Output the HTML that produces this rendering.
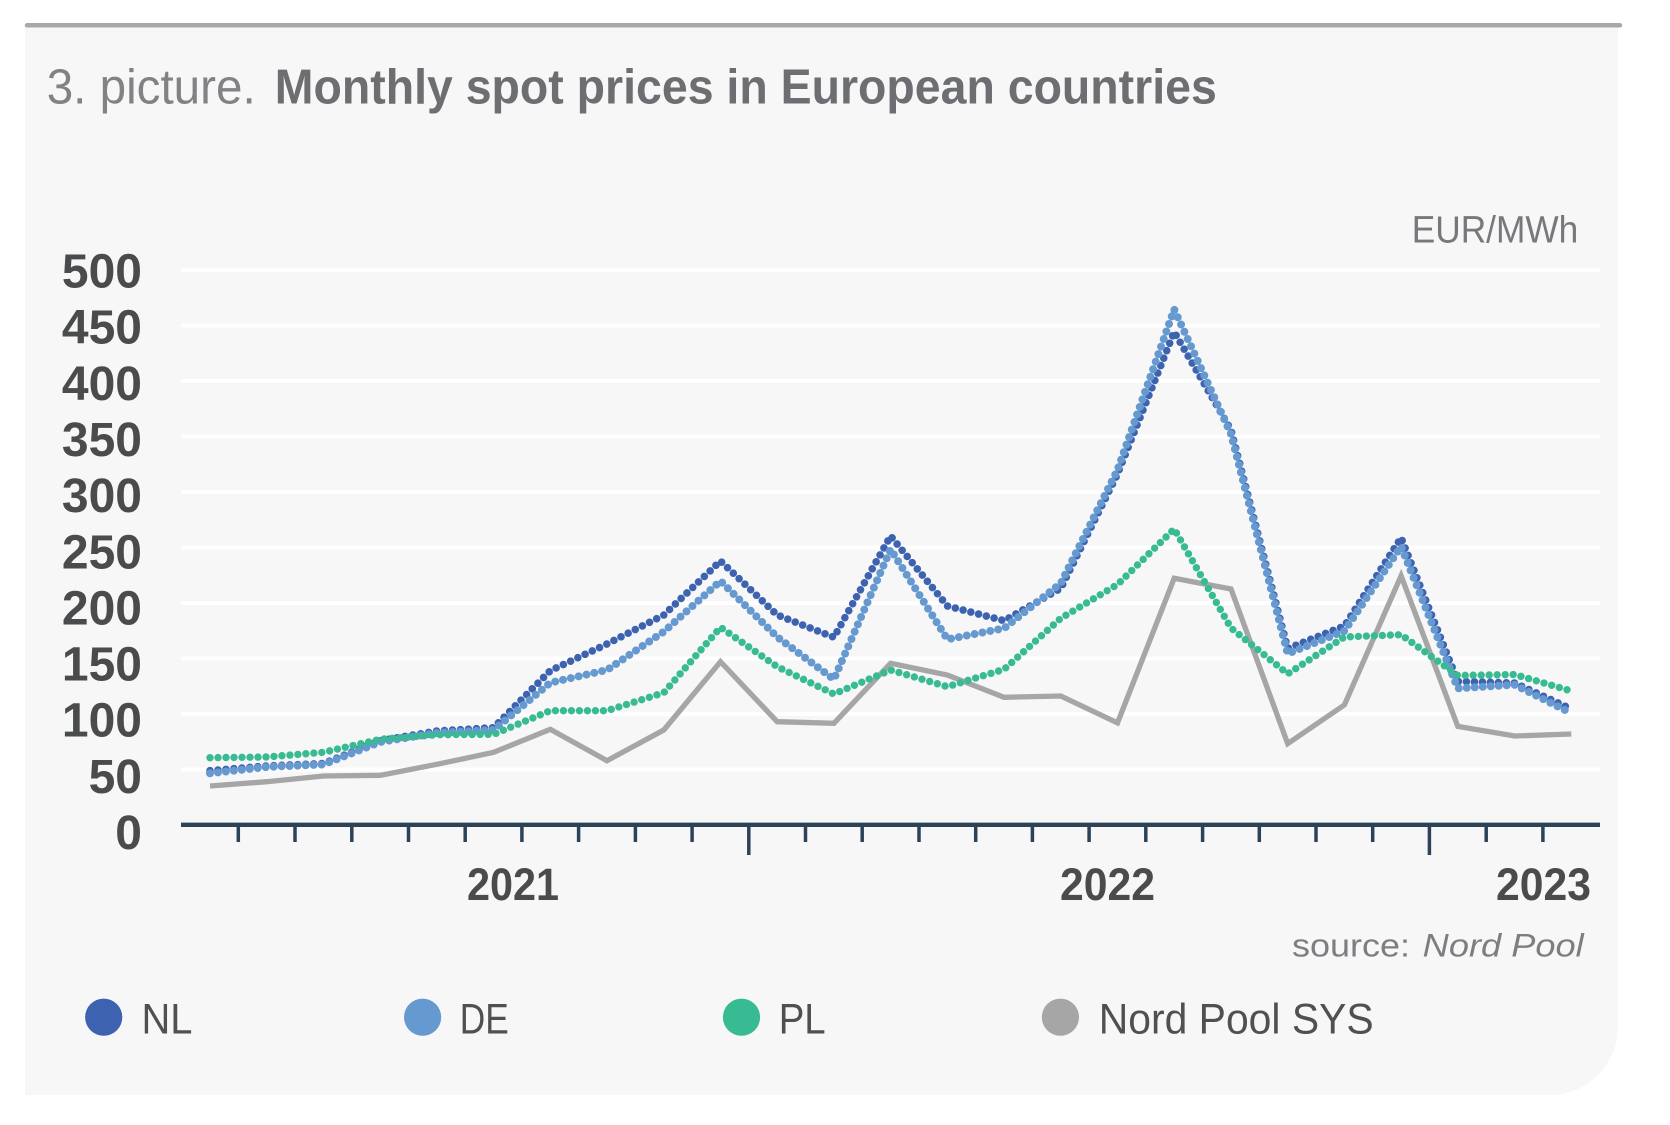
<!DOCTYPE html>
<html>
<head>
<meta charset="utf-8">
<style>
html,body{margin:0;padding:0;background:#ffffff;}
body{width:1670px;height:1125px;overflow:hidden;}
svg{display:block;}
</style>
</head>
<body>
<svg width="1670" height="1125" viewBox="0 0 1670 1125" xmlns="http://www.w3.org/2000/svg">
  <!-- panel -->
  <path d="M25,26 H1618 V1027 A68,68 0 0 1 1550,1095 H25 Z" fill="#f7f7f7"/>
  <line x1="27" y1="25.3" x2="1620" y2="25.3" stroke="#a7a9a9" stroke-width="4.5" stroke-linecap="round"/>

  <!-- title -->
  <text x="46.7" y="103.5" font-family="Liberation Sans, sans-serif" font-size="49" fill="#818285" textLength="209" lengthAdjust="spacingAndGlyphs">3. picture.</text>
  <text x="274.8" y="103.5" font-family="Liberation Sans, sans-serif" font-size="49" font-weight="bold" fill="#6d6e71" textLength="942" lengthAdjust="spacingAndGlyphs">Monthly spot prices in European countries</text>

  <!-- unit -->
  <text x="1411.7" y="242.7" font-family="Liberation Sans, sans-serif" font-size="38" fill="#77787b" textLength="166.6" lengthAdjust="spacingAndGlyphs">EUR/MWh</text>

  <!-- gridlines -->
  <g stroke="#ffffff" stroke-width="4">
    <line x1="181" y1="270" x2="1600" y2="270"/>
    <line x1="181" y1="325.5" x2="1600" y2="325.5"/>
    <line x1="181" y1="381" x2="1600" y2="381"/>
    <line x1="181" y1="436.5" x2="1600" y2="436.5"/>
    <line x1="181" y1="492" x2="1600" y2="492"/>
    <line x1="181" y1="547.5" x2="1600" y2="547.5"/>
    <line x1="181" y1="603" x2="1600" y2="603"/>
    <line x1="181" y1="658.5" x2="1600" y2="658.5"/>
    <line x1="181" y1="714" x2="1600" y2="714"/>
    <line x1="181" y1="769.5" x2="1600" y2="769.5"/>
  </g>

  <!-- y labels -->
  <g font-family="Liberation Sans, sans-serif" font-size="48" font-weight="bold" fill="#4a4b4d" text-anchor="end">
    <text x="142" y="287.5">500</text>
    <text x="142" y="343.6">450</text>
    <text x="142" y="399.8">400</text>
    <text x="142" y="455.9">350</text>
    <text x="142" y="512.1">300</text>
    <text x="142" y="568.3">250</text>
    <text x="142" y="624.4">200</text>
    <text x="142" y="680.6">150</text>
    <text x="142" y="736.7">100</text>
    <text x="142" y="792.9">50</text>
    <text x="142" y="849">0</text>
  </g>

  <!-- series: Nord Pool SYS -->
  <polyline fill="none" stroke="#a6a6a6" stroke-width="5.3" stroke-linejoin="miter"
    points="210,786 266.7,781.7 323.4,776 380.2,775.3 436.9,764.3 493.6,752.3 550.3,729.3 607,760.7 663.8,730 720.5,661.7 777.2,721.7 833.9,723.3 890.6,663.3 947.4,675 1004.1,697.3 1060.8,696 1117.5,722.9 1174.2,578.3 1231,589 1287.7,743.7 1344.4,704.9 1401.1,575.8 1457.8,726.4 1514.6,736 1571.3,734"/>

  <!-- NL -->
  <polyline fill="none" stroke="#3d63b0" stroke-width="7.6" stroke-linecap="round" stroke-linejoin="round" stroke-dasharray="0 8"
    points="210,770.7 266.7,766 323.4,763.5 380.2,740.7 436.9,731 493.6,727.7 550.3,670.7 607,644 663.8,615 720.5,561 777.2,615 833.9,637.3 890.6,536 947.4,606 1004.1,620.7 1060.8,588.3 1117.5,474 1174.2,332 1231,430 1287.7,648.5 1344.4,626 1401.1,537.8 1457.8,681.4 1514.6,683 1571.3,709"/>

  <!-- DE -->
  <polyline fill="none" stroke="#6699cf" stroke-width="8" stroke-linecap="round" stroke-linejoin="round" stroke-dasharray="0 8"
    points="210,773.3 266.7,767 323.4,764.5 380.2,742 436.9,733 493.6,730 550.3,682.7 607,670 663.8,631.7 720.5,581 777.2,637 833.9,679.3 890.6,549.3 947.4,639.3 1004.1,628.3 1060.8,583.3 1117.5,470 1174.2,309.4 1231,434 1287.7,653.7 1344.4,631 1401.1,546.4 1457.8,688.3 1514.6,684.8 1571.3,713.2"/>

  <!-- PL -->
  <polyline fill="none" stroke="#38bb93" stroke-width="7.4" stroke-linecap="round" stroke-linejoin="round" stroke-dasharray="0 8"
    points="210,757.7 266.7,757 323.4,752.3 380.2,739.3 436.9,734.7 493.6,734.3 550.3,710.7 607,710.7 663.8,692.7 720.5,627.3 777.2,666.7 833.9,694 890.6,670 947.4,686.7 1004.1,669.3 1060.8,618.3 1117.5,584.5 1174.2,529 1231,628 1287.7,673.8 1344.4,637 1401.1,634.7 1457.8,675.5 1514.6,674.5 1571.3,691"/>

  <!-- x axis -->
  <line x1="181" y1="824.8" x2="1600" y2="824.8" stroke="#2b4257" stroke-width="4.3"/>
  <g stroke="#2b4257" stroke-width="3.5">
    <line x1="238.3" y1="826" x2="238.3" y2="842"/>
    <line x1="295" y1="826" x2="295" y2="842"/>
    <line x1="351.8" y1="826" x2="351.8" y2="842"/>
    <line x1="408.5" y1="826" x2="408.5" y2="842"/>
    <line x1="465.2" y1="826" x2="465.2" y2="842"/>
    <line x1="521.9" y1="826" x2="521.9" y2="842"/>
    <line x1="578.6" y1="826" x2="578.6" y2="842"/>
    <line x1="635.4" y1="826" x2="635.4" y2="842"/>
    <line x1="692.1" y1="826" x2="692.1" y2="842"/>
    <line x1="748.8" y1="826" x2="748.8" y2="855"/>
    <line x1="805.5" y1="826" x2="805.5" y2="842"/>
    <line x1="862.2" y1="826" x2="862.2" y2="842"/>
    <line x1="919" y1="826" x2="919" y2="842"/>
    <line x1="975.7" y1="826" x2="975.7" y2="842"/>
    <line x1="1032.4" y1="826" x2="1032.4" y2="842"/>
    <line x1="1089.1" y1="826" x2="1089.1" y2="842"/>
    <line x1="1145.8" y1="826" x2="1145.8" y2="842"/>
    <line x1="1202.6" y1="826" x2="1202.6" y2="842"/>
    <line x1="1259.3" y1="826" x2="1259.3" y2="842"/>
    <line x1="1316" y1="826" x2="1316" y2="842"/>
    <line x1="1372.7" y1="826" x2="1372.7" y2="842"/>
    <line x1="1429.4" y1="826" x2="1429.4" y2="855"/>
    <line x1="1486.2" y1="826" x2="1486.2" y2="842"/>
    <line x1="1542.9" y1="826" x2="1542.9" y2="842"/>
  </g>

  <!-- year labels -->
  <g font-family="Liberation Sans, sans-serif" font-size="45" font-weight="bold" fill="#4a4b4d">
    <text x="467" y="900" textLength="92" lengthAdjust="spacingAndGlyphs">2021</text>
    <text x="1060" y="900" textLength="95" lengthAdjust="spacingAndGlyphs">2022</text>
    <text x="1496" y="900" textLength="95" lengthAdjust="spacingAndGlyphs">2023</text>
  </g>

  <!-- source -->
  <text x="1292" y="956.7" font-family="Liberation Sans, sans-serif" font-size="32" fill="#7d7e81" textLength="118" lengthAdjust="spacingAndGlyphs">source:</text>
  <text x="1422.7" y="956.7" font-family="Liberation Sans, sans-serif" font-size="32" font-style="italic" fill="#7d7e81" textLength="161" lengthAdjust="spacingAndGlyphs">Nord Pool</text>

  <!-- legend -->
  <circle cx="103.7" cy="1017.2" r="18.6" fill="#3d63b0"/>
  <circle cx="422.6" cy="1017.2" r="18.6" fill="#6699cf"/>
  <circle cx="741.5" cy="1017.2" r="18.6" fill="#38bb93"/>
  <circle cx="1060.4" cy="1017.2" r="18.6" fill="#a6a6a6"/>
  <g font-family="Liberation Sans, sans-serif" font-size="43" fill="#505052">
    <text x="141.5" y="1033.3" textLength="51" lengthAdjust="spacingAndGlyphs">NL</text>
    <text x="459.8" y="1033.3" textLength="49" lengthAdjust="spacingAndGlyphs">DE</text>
    <text x="778.7" y="1033.3" textLength="47" lengthAdjust="spacingAndGlyphs">PL</text>
    <text x="1098.7" y="1033.3" textLength="275" lengthAdjust="spacingAndGlyphs">Nord Pool SYS</text>
  </g>
</svg>
</body>
</html>
